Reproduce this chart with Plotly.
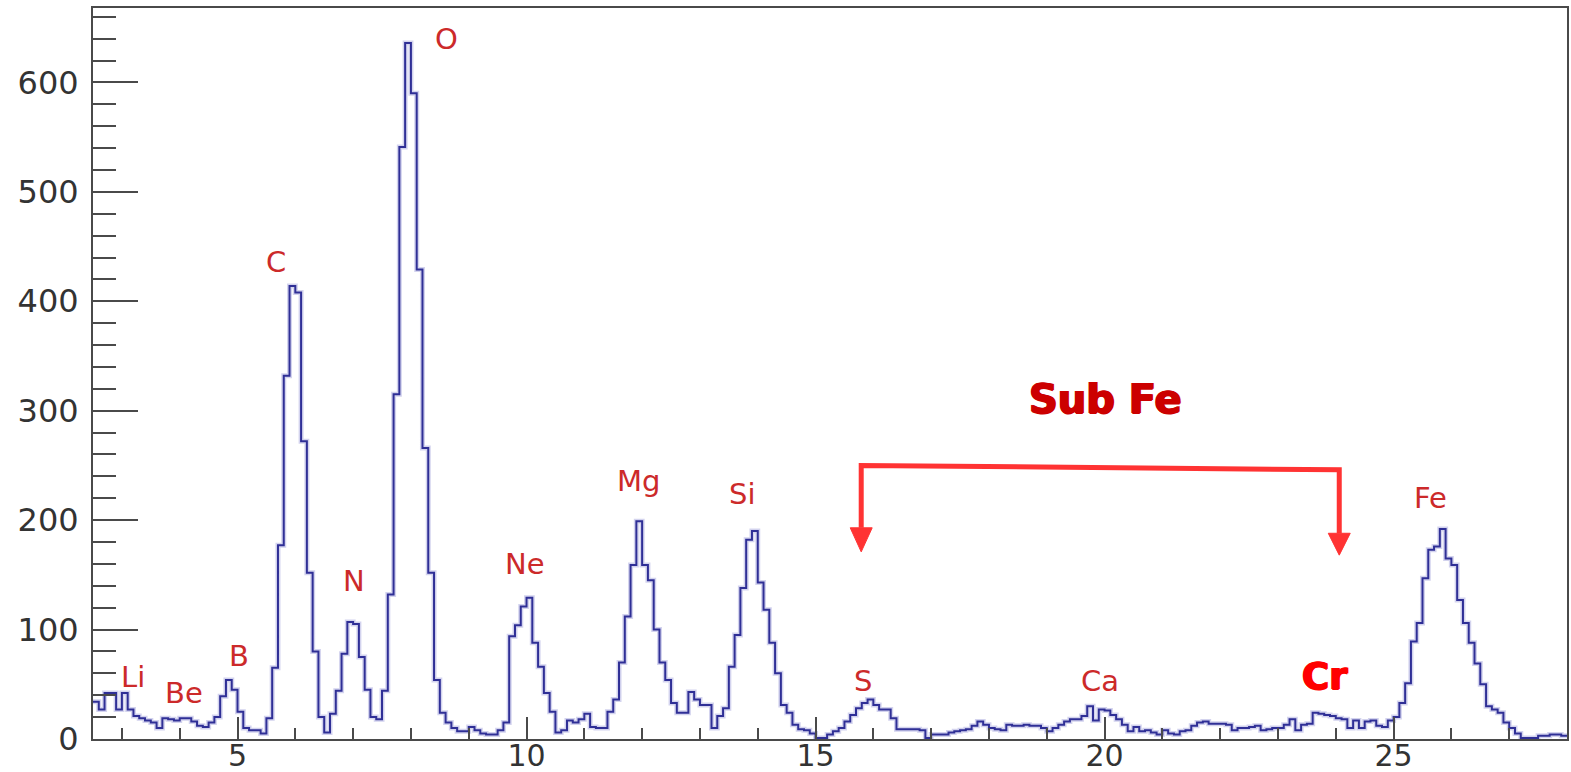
import plotly.graph_objects as go

# Binning of the energy spectrum (bin width 0.1, first bin edge at 2.5)
X_START = 2.5
BIN_WIDTH = 0.1

# Counts per bin, grouped by region of the spectrum
counts_li_to_o = [  # 2.5 - 8.9
    34, 27, 42, 42, 27, 42, 27, 21, 19, 17, 15, 10, 19, 18, 17, 19, 19, 16, 12, 11,
    15, 20, 39, 54, 45,
    25, 10, 8, 8, 5, 19, 65, 177, 332, 414,
    408, 272, 152, 80, 20, 6, 23, 44, 78, 107,
    105, 75, 45, 20, 18, 44, 132, 315, 541, 636,
    590, 429, 266, 152, 54, 24, 15, 10, 7, 7,
]
counts_ne_to_si = [  # 9.0 - 14.9
    11, 8, 5, 4, 4, 8, 15, 94, 104, 121,
    129, 88, 66, 42, 25, 6, 8, 17, 15, 18,
    23, 11, 10, 10, 25, 36, 70, 112, 159, 199,
    159, 145, 100, 70, 54, 33, 24, 24, 43, 36,
    31, 31, 10, 21, 28, 66, 95, 138, 182, 190,
    143, 118, 88, 60, 31, 24, 13, 9, 8, 5,
]
counts_s_to_cr = [  # 15.0 - 24.9
    1, 1, 4, 7, 10, 16, 22, 28, 33, 36,
    31, 27, 27, 19, 9, 9, 9, 9, 8, 1,
    4, 4, 4, 6, 7, 8, 9, 12, 16, 13,
    10, 9, 8, 13, 12, 12, 13, 12, 12, 10,
    7, 10, 13, 16, 18, 18, 21, 30, 17, 27,
    26, 22, 18, 13, 7, 11, 7, 8, 6, 4,
    8, 5, 4, 7, 8, 12, 15, 16, 14, 14,
    14, 13, 8, 10, 10, 11, 12, 8, 9, 10,
    10, 13, 18, 8, 13, 14, 24, 23, 22, 21,
    19, 18, 10, 17, 10, 16, 17, 12, 11, 17,
]
counts_fe = [  # 25.0 - 27.9
    20, 33, 51, 89, 106, 147, 173, 176, 192, 165,
    159, 127, 106, 88, 69, 50, 30, 27, 24, 15,
    10, 5, 1, 1, 1, 3, 3, 4, 4, 3,
]

# Element labels (name, x, y)
element_names = ["Li", "Be", "B", "C", "N", "O", "Ne", "Mg", "Si", "S", "Ca", "Fe"]
element_x = [3.20, 4.07, 5.02, 5.67, 7.01, 8.62, 9.98, 11.94, 13.72, 15.82, 19.92, 25.63]
element_y = [57, 42, 76, 436, 144, 640, 160, 236, 224, 53, 53, 220]

# "Sub Fe" bracket: span and heights
sub_fe_x = [15.79, 24.06]
sub_fe_top = [250, 246]
sub_fe_base = [193, 188]
sub_fe_tip = [171, 168]

counts = counts_li_to_o + counts_ne_to_si + counts_s_to_cr + counts_fe
edges = [round(X_START + BIN_WIDTH * i, 3) for i in range(len(counts) + 1)]
step_y = counts + [counts[-1]]

fig = go.Figure()
# soft halo under the histogram line
fig.add_trace(go.Scatter(
    x=edges, y=step_y, mode="lines",
    line=dict(shape="hv", color="rgba(110,110,200,0.30)", width=5),
    hoverinfo="skip",
))
fig.add_trace(go.Scatter(
    x=edges, y=step_y, mode="lines",
    line=dict(shape="hv", color="#2f2f96", width=2),
))

label_font = dict(family="DejaVu Sans", size=29, color="#cc2a2a")
annotations = [
    dict(x=x, y=y, text=t, showarrow=False, xref="x", yref="y",
         xanchor="center", yanchor="middle", font=label_font)
    for t, x, y in zip(element_names, element_x, element_y)
]
bold_red = "#ff0000"
annotations.append(dict(
    x=23.82, y=57, text="<b>Cr</b>", showarrow=False, xref="x", yref="y",
    xanchor="center", yanchor="middle",
    font=dict(family="DejaVu Sans", size=37, color=bold_red,
              shadow=f"1px 0 0 {bold_red}, -1px 0 0 {bold_red}, 0 1px 0 {bold_red}"),
))
dark_red = "#cc0000"
annotations.append(dict(
    x=20.02, y=311, text="<b>Sub Fe</b>", showarrow=False, xref="x", yref="y",
    xanchor="center", yanchor="middle",
    font=dict(family="DejaVu Sans", size=40, color=dark_red,
              shadow=f"1px 0 0 {dark_red}, -1px 0 0 {dark_red}, 0 1px 0 {dark_red}"),
))

arrow_color = "#ff3333"
half_head = 0.19
shapes = [dict(
    type="path", xref="x", yref="y",
    path=(f"M {sub_fe_x[0]},{sub_fe_base[0]} L {sub_fe_x[0]},{sub_fe_top[0]} "
          f"L {sub_fe_x[1]},{sub_fe_top[1]} L {sub_fe_x[1]},{sub_fe_base[1]}"),
    line=dict(color=arrow_color, width=5),
)]
for xa, yb, yt in zip(sub_fe_x, sub_fe_base, sub_fe_tip):
    shapes.append(dict(
        type="path", xref="x", yref="y",
        path=f"M {xa - half_head},{yb} L {xa + half_head},{yb} L {xa},{yt} Z",
        fillcolor=arrow_color, line=dict(color=arrow_color, width=1),
    ))

axis_color = "#4a4a4a"
y_tick_font = dict(family="DejaVu Sans", size=32, color="#333333")
x_tick_font = dict(family="DejaVu Sans", size=30, color="#333333")

fig.update_layout(
    width=1571, height=772,
    margin=dict(l=93, r=4, t=8, b=33, autoexpand=False),
    paper_bgcolor="white", plot_bgcolor="white",
    showlegend=False,
    annotations=annotations,
    shapes=shapes,
)
fig.update_xaxes(
    range=[X_START, 28.0],
    tickmode="linear", tick0=0, dtick=5,
    ticks="inside", ticklen=22, tickwidth=2, tickcolor=axis_color,
    minor=dict(tickmode="linear", tick0=0, dtick=1, ticks="inside",
               ticklen=11, tickwidth=2, tickcolor=axis_color, showgrid=False),
    showline=True, linecolor=axis_color, linewidth=2, mirror=True,
    showgrid=False, zeroline=False,
    tickfont=x_tick_font, ticklabelstandoff=-11,
)
fig.update_yaxes(
    range=[0, 668],
    tickmode="linear", tick0=0, dtick=100,
    ticks="inside", ticklen=45, tickwidth=2, tickcolor=axis_color,
    minor=dict(tickmode="linear", tick0=0, dtick=20, ticks="inside",
               ticklen=23, tickwidth=2, tickcolor=axis_color, showgrid=False),
    showline=True, linecolor=axis_color, linewidth=2, mirror=True,
    showgrid=False, zeroline=False,
    tickfont=y_tick_font, ticklabelstandoff=6,
)

fig.write_html("out.html")
